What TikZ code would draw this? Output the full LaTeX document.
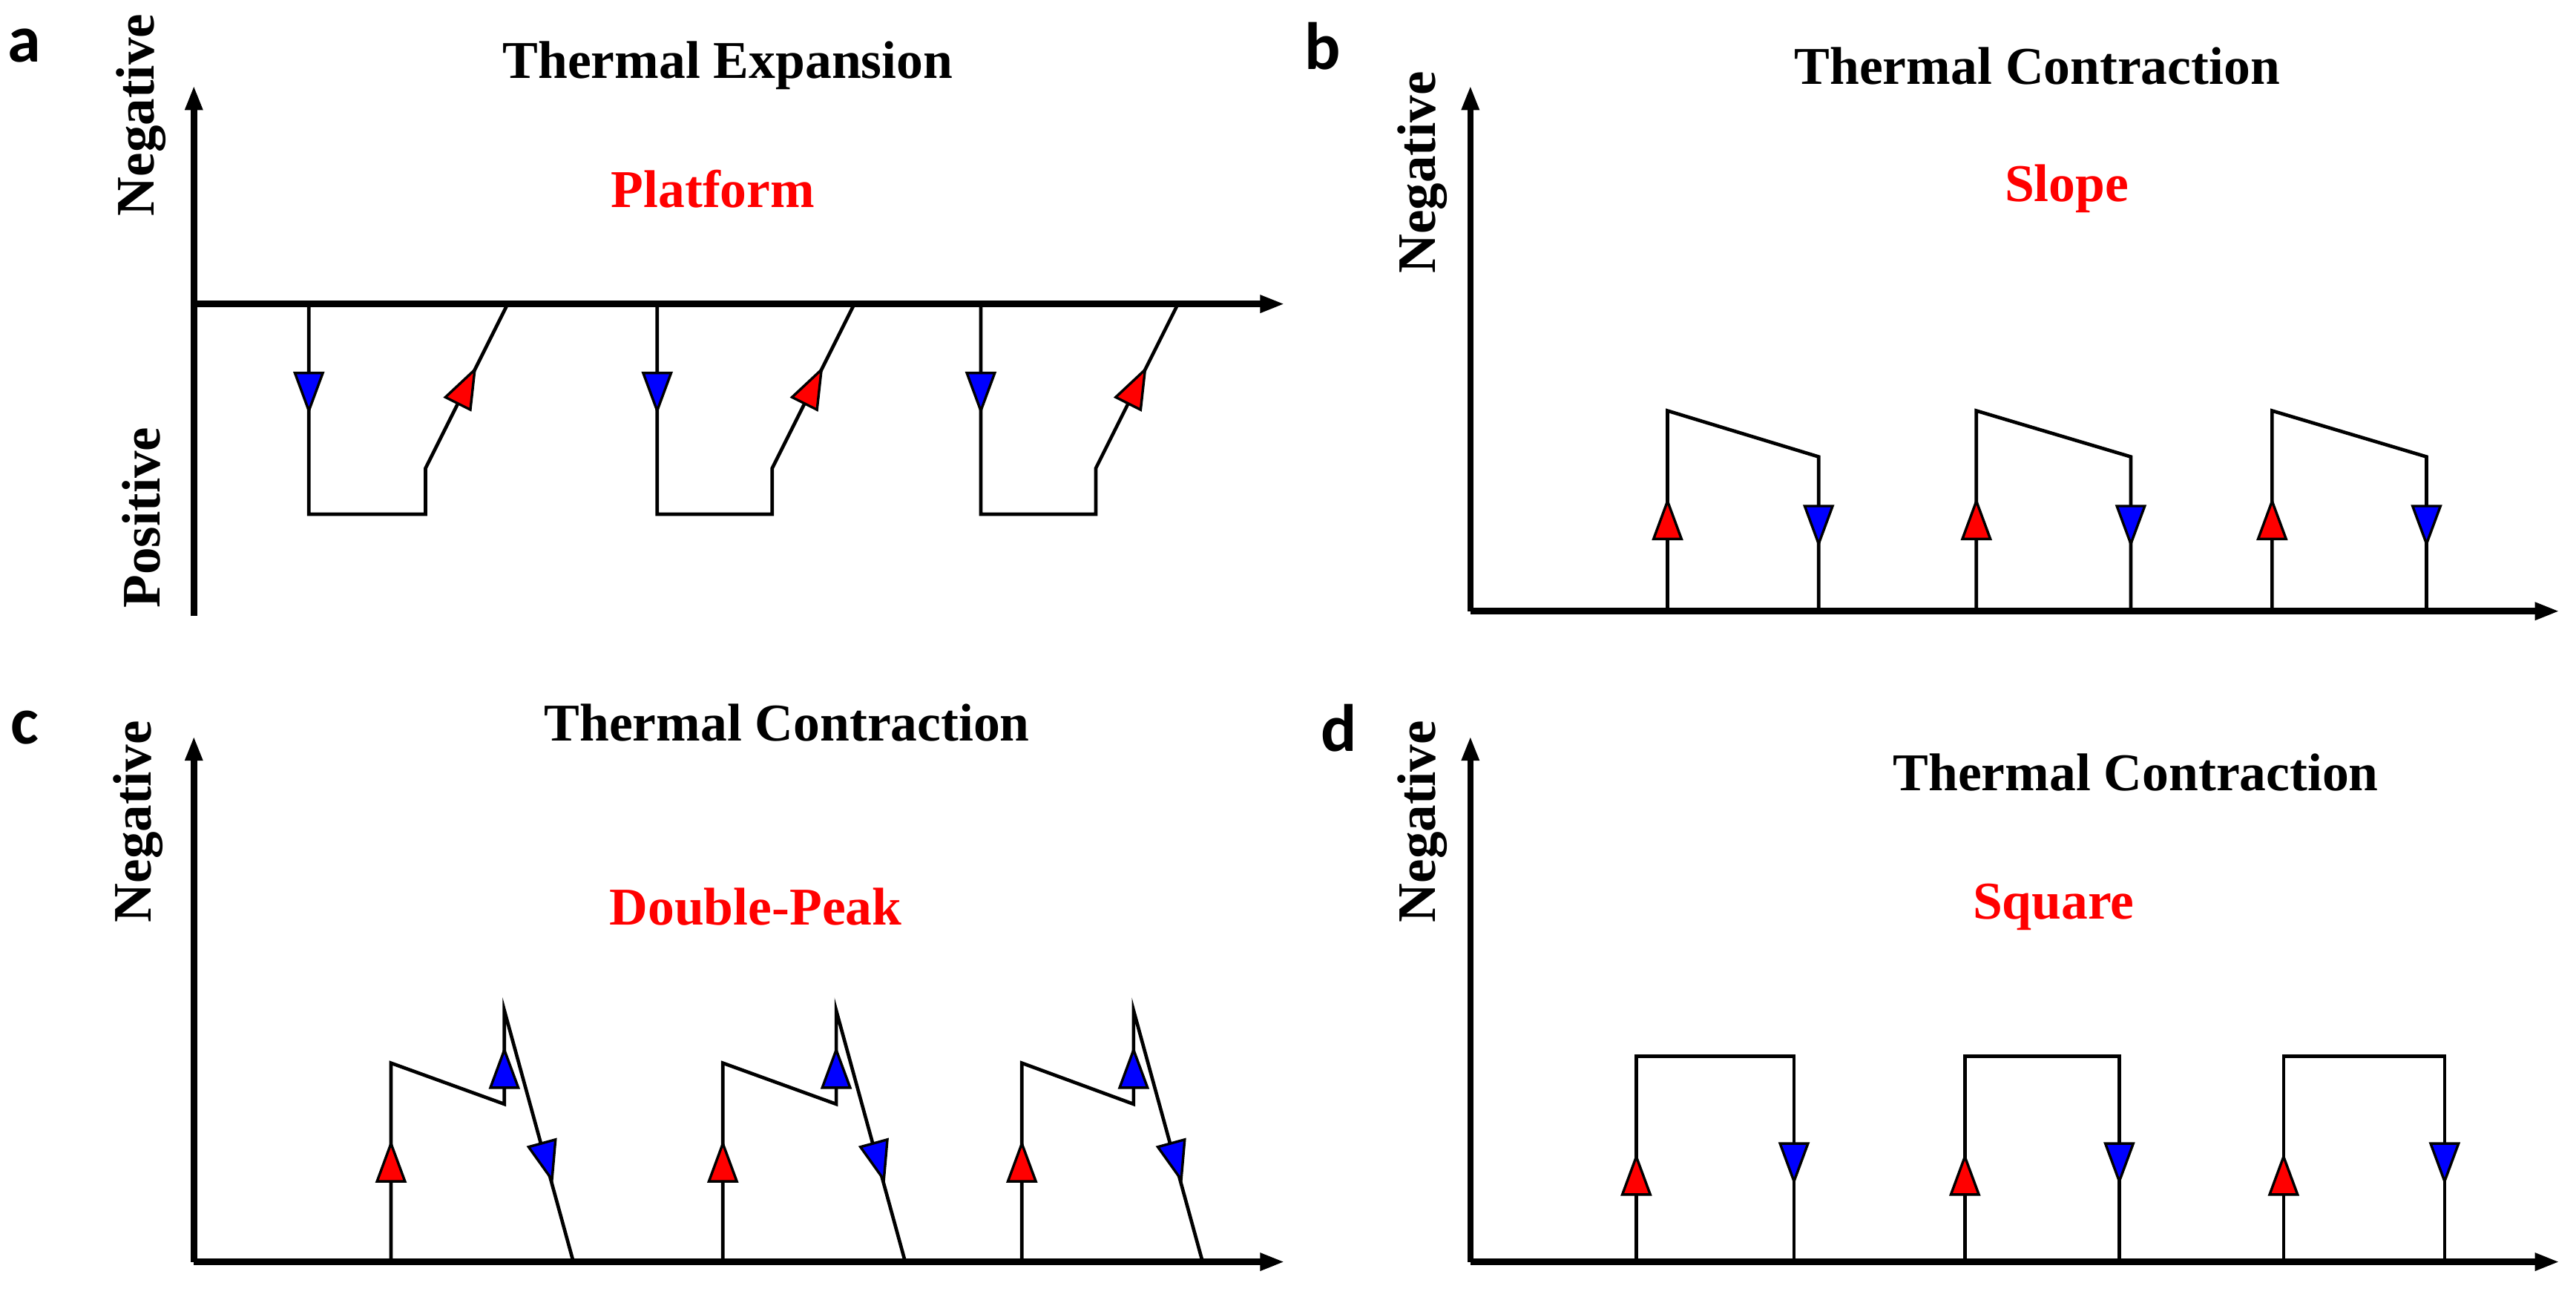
\documentclass[tikz,border=0pt]{standalone}
\usepackage{fontspec}
\setmainfont{Liberation Serif}
\newfontfamily\lab{Carlito}
\usetikzlibrary{arrows.meta}
\begin{document}
\begin{tikzpicture}[x=0.05cm,y=-0.05cm,
  ax/.style={line width=5.5pt,-{Triangle[length=0.75cm,width=0.5cm]}},
  ln/.style={line width=3pt,line join=miter},
  ttl/.style={font=\fontsize{46}{48}\selectfont\bfseries},
  red/.style={font=\fontsize{46}{48}\selectfont\bfseries,text=red},
  neg/.style={font=\fontsize{47}{48}\selectfont\bfseries,rotate=90},
  pl/.style={font=\fontsize{58}{60}\selectfont\lab\bfseries}]
\useasboundingbox (0,0) rectangle (1568,791);
\newcommand\tri[4]{% x,y,angle,color (tip at x,y)
  \begin{scope}[shift={(#1,#2)},rotate=#3]
  \filldraw[fill=#4,draw=black,line width=2.2pt,line join=miter] (0,0)--(-23,8.5)--(-23,-8.5)--cycle;
  \end{scope}}
% ---------- panel a
\node[pl] (la) at (15,28) {a};
\coordinate (ao) at (118,375); \coordinate (ay) at (118,52);
\coordinate (ax0) at (118,185); \coordinate (ax) at (782,185);
\draw[ax] (ao)--(ay);
\draw[ax] (ax0)--(ax);
\node[ttl] (ta) at (443,40) {Thermal Expansion};
\node[red] (ra) at (434,115) {Platform};
\node[neg] (na1) at (86,70) {Negative};
\node[neg] (na2) at (86,315) {Positive};
\foreach \d/\b/\t in {188/259/309,400/470/520,597/667/717}{
  \draw[ln] (\d,185)--(\d,313)--(\b,313)--(\b,285)--(\t,185);
  \tri{\d}{250}{-90}{blue}
  \tri{\b+30}{225}{63.4}{red}
}
% ---------- panel b
\node[pl] (lb) at (805,28) {b};
\coordinate (bo) at (895,372); \coordinate (by) at (895,52);
\coordinate (bx) at (1558,372);
\draw[ax] (bo)--(by);
\draw[ax] (bo)--(bx);
\node[ttl] (tb) at (1240,40) {Thermal Contraction};
\node[red] (rb) at (1258,115) {Slope};
\node[neg] (nb) at (866,105) {Negative};
\foreach \u/\v in {1015/1107,1203/1297,1383/1477}{
  \draw[ln] (\u,372)--(\u,250)--(\v,278)--(\v,372);
  \tri{\u}{305}{90}{red}
  \tri{\v}{331}{-90}{blue}
}
% ---------- panel c
\node[pl] (lc) at (15,443) {c};
\coordinate (co) at (118,768); \coordinate (cy) at (118,448);
\coordinate (cx) at (782,768);
\draw[ax] (co)--(cy);
\draw[ax] (co)--(cx);
\node[ttl] (tc) at (479,440) {Thermal Contraction};
\node[red] (rc) at (460,552) {Double-Peak};
\node[neg] (nc) at (84,500) {Negative};
\foreach \u/\p/\e in {238/307/349,440/509/551,622/690/732}{
  \draw[ln] (\u,768)--(\u,647)--(\p,672)--(\p,615)--(\e,768);
  \tri{\u}{696}{90}{red}
  \tri{\p}{639}{90}{blue}
  \tri{\p+29}{718}{-74.7}{blue}
}
% ---------- panel d
\node[pl] (ld) at (815,443) {d};
\coordinate (do) at (895,768); \coordinate (dy) at (895,448);
\coordinate (dx) at (1558,768);
\draw[ax] (do)--(dy);
\draw[ax] (do)--(dx);
\node[ttl] (td) at (1300,470) {Thermal Contraction};
\node[red] (rd) at (1250,552) {Square};
\node[neg] (nd) at (866,500) {Negative};
\foreach \u/\v in {996/1092,1196/1290,1390/1488}{
  \draw[ln] (\u,768)--(\u,643)--(\v,643)--(\v,768);
  \tri{\u}{704}{90}{red}
  \tri{\v}{719}{-90}{blue}
}
\end{tikzpicture}
\end{document}
